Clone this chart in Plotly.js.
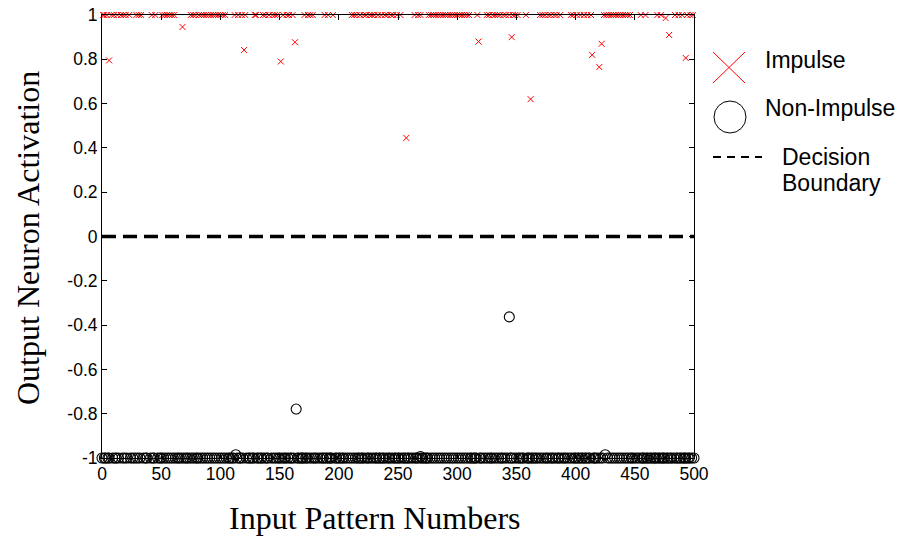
<!DOCTYPE html>
<html><head><meta charset="utf-8">
<script src="https://cdn.plot.ly/plotly-3.0.1.min.js"></script>
<style>html,body{margin:0;padding:0;background:#fff;}#chart{width:907px;height:537px;}</style>
</head><body><div id="chart"></div>
<script>
// Impulse patterns classified at the top (activation = 1)
const impulseTopX = [1,2,4,8,10,13,16,18,20,23,29,31,33,42,45,51,53,55,57,59,61,
  75,77,79,82,84,86,88,90,92,94,96,98,100,102,104,112,115,118,121,129,130,
  136,138,141,144,146,148,153,156,158,161,171,174,176,178,188,191,195,
  211,213,215,218,221,223,226,228,230,233,236,239,241,244,246,249,252,264,267,269,
  276,278,280,282,284,286,288,290,292,294,296,298,300,302,304,306,308,310,317,
  325,327,330,332,334,336,339,341,344,347,349,351,358,370,372,374,377,379,382,384,387,
  396,398,401,404,407,410,413,424,426,428,430,432,434,436,438,440,442,444,446,
  455,459,469,472,484,487,490,494,497,499];
const impulseTopY = impulseTopX.map(() => 1);
// Impulse patterns with activation below 1
const impulseLowX = [6,68,120,151,163,257,318,346,362,414,420,422,476,479,493];
const impulseLowY = [0.795,0.946,0.842,0.79,0.877,0.445,0.88,0.90,0.62,0.82,0.765,0.87,0.986,0.91,0.806];
// Non-impulse patterns at the bottom (activation = -1)
const nonImpBotX = [0,2,3,5,6,9,11,12,14,17,19,21,24,26,28,30,32,35,37,38,41,43,44,47,49,50,52,54,56,58,60,62,64,65,67,69,
  71,72,74,76,78,80,81,83,85,87,89,91,93,95,97,99,101,103,105,107,108,110,111,114,116,117,119,122,124,125,127,128,131,132,
  134,135,137,139,140,143,145,147,149,150,152,154,155,157,159,160,162,165,166,168,169,170,172,173,175,177,179,180,182,184,
  186,187,189,190,192,193,194,197,198,200,201,203,204,206,208,210,212,214,216,217,219,220,222,224,225,227,229,231,232,234,
  235,237,238,240,242,243,245,247,248,250,251,253,255,256,258,259,261,263,265,266,268,270,271,273,274,275,277,279,281,283,
  285,287,289,291,293,295,297,299,301,303,305,307,309,311,312,314,315,316,319,320,322,324,326,328,329,331,333,335,337,338,
  340,342,345,346,348,350,352,353,355,356,359,360,361,363,364,366,367,369,371,373,375,376,378,380,381,383,385,386,388,390,
  391,393,395,397,399,400,402,403,405,406,408,409,411,412,415,416,417,419,421,423,427,429,431,433,435,437,439,441,443,445,
  447,448,450,452,454,456,457,458,460,461,463,464,466,467,468,470,471,473,474,475,477,478,480,481,483,485,486,488,489,491,
  492,493,495,496,498,500];
const nonImpBotY = nonImpBotX.map(() => -1);
// Non-impulse patterns with activation above -1
const nonImpHighX = [164,344,113,425,269];
const nonImpHighY = [-0.779,-0.363,-0.985,-0.985,-0.993];
// Decision boundary
const boundaryX = [0,500];
const boundaryY = [0,0];
const xTicks = [0,50,100,150,200,250,300,350,400,450,500];
const yTicks = [-1,-0.8,-0.6,-0.4,-0.2,0,0.2,0.4,0.6,0.8,1];
const yTickText = ['-1','-0.8','-0.6','-0.4','-0.2','0','0.2','0.4','0.6','0.8','1'];

const impMarker = {symbol:'x-thin-open', size:6, color:'#ff0000', line:{color:'#ff0000', width:1}};
const nonMarker = {symbol:'circle-open', size:10, color:'#000', line:{color:'#000', width:1.1}};

const traces = [
  {x:nonImpBotX, y:nonImpBotY, mode:'markers', type:'scatter', marker:nonMarker, cliponaxis:false, showlegend:false},
  {x:nonImpHighX, y:nonImpHighY, mode:'markers', type:'scatter', marker:nonMarker, cliponaxis:false, showlegend:false},
  {x:boundaryX, y:boundaryY, mode:'lines', type:'scatter', line:{color:'#000', width:3.5, dash:'14px,7px'}, showlegend:false},
  {x:impulseTopX, y:impulseTopY, mode:'markers', type:'scatter', marker:impMarker, cliponaxis:false, showlegend:false},
  {x:impulseLowX, y:impulseLowY, mode:'markers', type:'scatter', marker:impMarker, cliponaxis:false, showlegend:false}
];

const legFont = {family:'Liberation Sans, Arial, sans-serif', size:23, color:'#000'};
const titleFont = {family:'Liberation Serif, Times New Roman, serif', size:32, color:'#000'};
const px = v => (v-102)/592;
const py = v => (458-v)/443;
const layout = {
  width:907, height:537,
  margin:{l:102, r:213, t:15, b:79},
  paper_bgcolor:'#fff', plot_bgcolor:'#fff',
  showlegend:false,
  xaxis:{range:[0,500], tickvals:xTicks, ticktext:xTicks.map(String), ticks:'inside', ticklen:5, tickcolor:'#000',
    showline:true, linecolor:'#000', linewidth:1, mirror:'ticks', showgrid:false, zeroline:false,
    tickfont:{family:'Liberation Sans, Arial, sans-serif', size:17.5, color:'#000'}},
  yaxis:{range:[-1,1], tickvals:yTicks, ticktext:yTickText,
    ticks:'inside', ticklen:5, tickcolor:'#000',
    showline:true, linecolor:'#000', linewidth:1, mirror:'ticks', showgrid:false, zeroline:false,
    tickfont:{family:'Liberation Sans, Arial, sans-serif', size:17.5, color:'#000'}},
  shapes:[
    {type:'line', xref:'paper', yref:'paper', x0:px(713), x1:px(745), y0:py(52), y1:py(83), line:{color:'#ff0000', width:1}},
    {type:'line', xref:'paper', yref:'paper', x0:px(713), x1:px(745), y0:py(83), y1:py(52), line:{color:'#ff0000', width:1}},
    {type:'circle', xref:'paper', yref:'paper', x0:px(714), x1:px(746), y0:py(101), y1:py(133), line:{color:'#000', width:1}},
    {type:'line', xref:'paper', yref:'paper', x0:px(713), x1:px(762), y0:py(157), y1:py(157), line:{color:'#000', width:2, dash:'8px,6px'}}
  ],
  annotations:[
    {xref:'paper', yref:'paper', x:px(375), y:py(518), text:'Input Pattern Numbers', showarrow:false, xanchor:'center', yanchor:'middle', font:titleFont},
    {xref:'paper', yref:'paper', x:px(28), y:py(238), text:'Output Neuron Activation', textangle:-90, showarrow:false, xanchor:'center', yanchor:'middle', font:titleFont},
    {xref:'paper', yref:'paper', x:px(763), y:py(60), text:'Impulse', showarrow:false, xanchor:'left', yanchor:'middle', font:legFont},
    {xref:'paper', yref:'paper', x:px(763), y:py(108), text:'Non-Impulse', showarrow:false, xanchor:'left', yanchor:'middle', font:legFont},
    {xref:'paper', yref:'paper', x:px(780), y:py(157), text:'Decision', showarrow:false, xanchor:'left', yanchor:'middle', font:legFont},
    {xref:'paper', yref:'paper', x:px(780), y:py(183), text:'Boundary', showarrow:false, xanchor:'left', yanchor:'middle', font:legFont}
  ]
};
Plotly.newPlot('chart', traces, layout, {displayModeBar:false, staticPlot:true});
</script></body></html>
